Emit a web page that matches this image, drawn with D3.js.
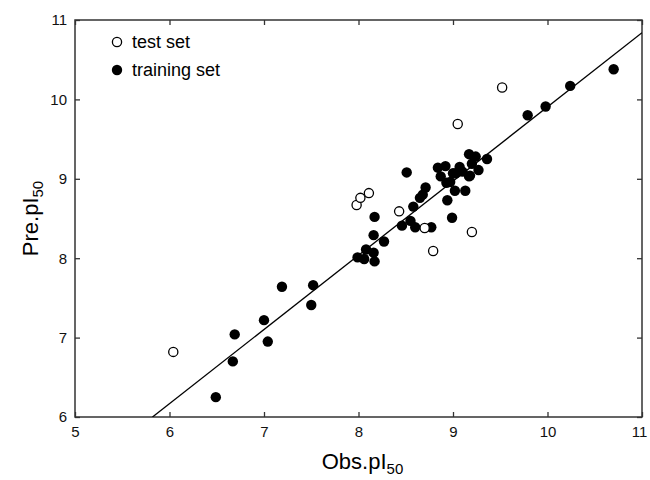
<!DOCTYPE html>
<html>
<head>
<meta charset="utf-8">
<script src="https://cdn.jsdelivr.net/npm/d3@7"></script>
<style>
  html, body { margin: 0; padding: 0; background: #fff; }
  svg { display: block; font-family: "Liberation Sans", Arial, Helvetica, sans-serif; }
</style>
</head>
<body>
<svg id="chart" width="650" height="480"></svg>
<script>
// ---- data ----
const testObs  = [6.04, 7.98, 8.02, 8.11, 8.43, 8.70, 8.79, 9.20, 9.05, 9.52];
const testPre  = [6.82, 8.67, 8.76, 8.82, 8.59, 8.38, 8.09, 8.33, 9.69, 10.15];

const trainObs = [6.49, 6.67, 6.69, 7.00, 7.04, 7.19, 7.50, 7.52, 7.99, 8.06,
                  8.08, 8.16, 8.17, 8.16, 8.17, 8.27, 8.51, 8.46, 8.55, 8.60,
                  8.58, 8.65, 8.71, 8.68, 8.77, 8.84, 8.87, 8.92, 8.93, 8.94,
                  8.99, 9.02, 9.00, 9.07, 9.10, 9.13, 9.17, 9.17, 9.20, 9.24,
                  9.27, 9.36, 9.79, 9.98, 10.24, 10.70, 9.03, 9.18, 8.97];
const trainPre = [6.25, 6.70, 7.04, 7.22, 6.95, 7.64, 7.41, 7.66, 8.01, 7.99,
                  8.11, 8.07, 7.96, 8.29, 8.52, 8.21, 9.08, 8.41, 8.47, 8.39,
                  8.65, 8.76, 8.89, 8.80, 8.39, 9.14, 9.03, 9.16, 8.95, 8.73,
                  8.51, 8.85, 9.07, 9.15, 9.09, 8.85, 9.03, 9.31, 9.19, 9.28,
                  9.11, 9.25, 9.80, 9.91, 10.17, 10.38, 9.07, 9.04, 8.96];

const fitX = [5.82, 11.0];
const fitY = [6.0, 10.84];

const xTicks = [5, 6, 7, 8, 9, 10, 11];
const yTicks = [6, 7, 8, 9, 10, 11];
const legendLabels = ["test set", "training set"];

// ---- layout ----
const svg = d3.select("#chart");
const m = { left: 75, top: 20, right: 8, bottom: 63 };
const W = 650, H = 480;
const x = d3.scaleLinear().domain([5, 11]).range([m.left, W - m.right]);
const y = d3.scaleLinear().domain([6, 11]).range([H - m.bottom, m.top]);
const frameColor = "#333";
const fmt = d3.format("d");

svg.append("defs").append("clipPath").attr("id", "clip")
  .append("rect").attr("x", x(5)).attr("y", y(11))
  .attr("width", x(11) - x(5)).attr("height", y(6) - y(11));

// axes with inward ticks
const tickFont = 15;
const axB = svg.append("g").attr("transform", `translate(0,${y(6)})`)
  .call(d3.axisBottom(x).tickValues(xTicks).tickFormat(fmt).tickSizeInner(-5).tickSizeOuter(0).tickPadding(9));
const axT = svg.append("g").attr("transform", `translate(0,${y(11)})`)
  .call(d3.axisTop(x).tickValues(xTicks).tickSizeInner(-5).tickSizeOuter(0).tickFormat(""));
const axL = svg.append("g").attr("transform", `translate(${x(5)},0)`)
  .call(d3.axisLeft(y).tickValues(yTicks).tickFormat(fmt).tickSizeInner(-5).tickSizeOuter(0).tickPadding(8));
const axR = svg.append("g").attr("transform", `translate(${x(11)},0)`)
  .call(d3.axisRight(y).tickValues(yTicks).tickSizeInner(-5).tickSizeOuter(0).tickFormat(""));

[axB, axT, axL, axR].forEach(g => {
  g.select(".domain").remove();
  g.selectAll(".tick line").attr("stroke", frameColor).attr("stroke-width", 1.3);
  g.selectAll(".tick text").attr("font-size", tickFont).attr("fill", "#111")
    .attr("font-family", "Liberation Sans, Arial, sans-serif");
});
// keep the last x label inside the window
axB.selectAll(".tick text").filter(d => d === 11).attr("dx", -3);

// frame
svg.append("rect")
  .attr("x", x(5)).attr("y", y(11))
  .attr("width", x(11) - x(5)).attr("height", y(6) - y(11))
  .attr("fill", "none").attr("stroke", frameColor).attr("stroke-width", 1.5);

// regression line
svg.append("line").attr("clip-path", "url(#clip)")
  .attr("x1", x(fitX[0])).attr("y1", y(fitY[0]))
  .attr("x2", x(fitX[1])).attr("y2", y(fitY[1]))
  .attr("stroke", "#000").attr("stroke-width", 1.3);

// training points (filled)
svg.append("g").selectAll("circle").data(d3.range(trainObs.length)).join("circle")
  .attr("cx", i => x(trainObs[i])).attr("cy", i => y(trainPre[i]))
  .attr("r", 5.2).attr("fill", "#000");

// test points (open)
svg.append("g").selectAll("circle").data(d3.range(testObs.length)).join("circle")
  .attr("cx", i => x(testObs[i])).attr("cy", i => y(testPre[i]))
  .attr("r", 4.6).attr("fill", "#fff").attr("stroke", "#000").attr("stroke-width", 1.3);

// legend
const lg = svg.append("g");
lg.append("circle").attr("cx", 117).attr("cy", 42).attr("r", 4.6)
  .attr("fill", "#fff").attr("stroke", "#000").attr("stroke-width", 1.3);
lg.append("circle").attr("cx", 117).attr("cy", 70).attr("r", 5.2).attr("fill", "#000");
lg.selectAll("text").data(legendLabels).join("text")
  .attr("x", 132).attr("y", (d, i) => 42 + i * 28)
  .attr("dy", "0.35em").attr("font-size", 18).attr("fill", "#000")
  .text(d => d);

// axis titles
const xt = svg.append("text").attr("x", (x(5) + x(11)) / 2 + 4).attr("y", 469)
  .attr("text-anchor", "middle").attr("font-size", 22).attr("fill", "#000");
xt.append("tspan").text("Obs.pI");
xt.append("tspan").attr("font-size", 15).attr("dy", 5).text("50");

const yt = svg.append("text")
  .attr("transform", `translate(38,${(y(6) + y(11)) / 2}) rotate(-90)`)
  .attr("text-anchor", "middle").attr("font-size", 22).attr("fill", "#000");
yt.append("tspan").text("Pre.pI");
yt.append("tspan").attr("font-size", 15).attr("dy", 5).text("50");
</script>
</body>
</html>
